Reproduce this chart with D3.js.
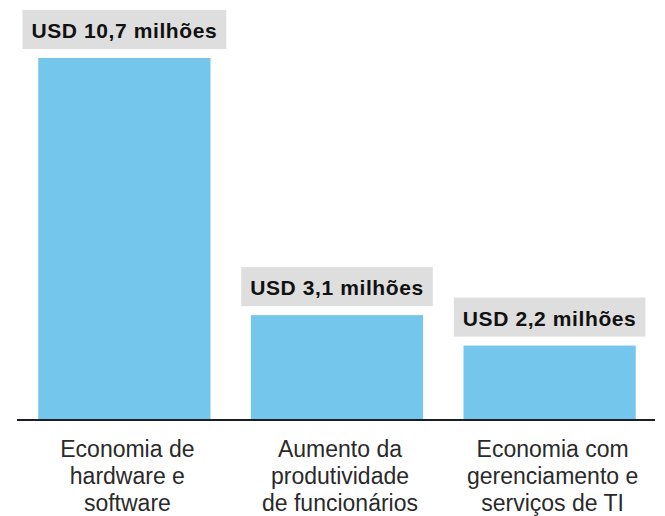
<!DOCTYPE html>
<html>
<head>
<meta charset="utf-8">
<script src="https://cdn.jsdelivr.net/npm/d3@7"></script>
<style>
  html, body { margin: 0; padding: 0; background: #ffffff; }
  svg { display: block; }
</style>
</head>
<body>
<svg id="chart" width="665" height="516"></svg>
<script>
const categories = [
  ["Economia de", "hardware e", "software"],
  ["Aumento da", "produtividade", "de funcionários"],
  ["Economia com", "gerenciamento e", "serviços de TI"]
];
const values = [10.7, 3.1, 2.2];
const valueLabels = ["USD 10,7 milhões", "USD 3,1 milhões", "USD 2,2 milhões"];

const svg = d3.select("#chart");
const baseY = 420, topY = 58;
const x = d3.scaleBand().domain(d3.range(values.length)).range([17, 657])
  .paddingInner(0.19).paddingOuter(0.1);
const y = d3.scaleLinear().domain([0, d3.max(values)]).range([baseY, topY]);

// bars
svg.selectAll("rect.bar").data(values).join("rect")
  .attr("class", "bar")
  .attr("x", (d, i) => x(i))
  .attr("y", d => y(d))
  .attr("width", x.bandwidth())
  .attr("height", d => baseY - y(d))
  .attr("fill", "#74c6ec");

// baseline
svg.append("line")
  .attr("x1", x.range()[0]).attr("x2", x.range()[1] - 2)
  .attr("y1", baseY).attr("y2", baseY)
  .attr("stroke", "#1b1f24").attr("stroke-width", 2);

// value labels with gray boxes
const lab = svg.selectAll("g.lab").data(values).join("g").attr("class", "lab");
lab.each(function(d, i) {
  const g = d3.select(this);
  const cx = x(i) + x.bandwidth() / 2;
  const boxBottom = y(d) - 9;
  const boxH = 39;
  const t = g.append("text")
    .attr("x", cx)
    .attr("y", boxBottom - 11)
    .attr("text-anchor", "middle")
    .attr("font-family", "Liberation Sans, Arial, sans-serif")
    .attr("font-weight", "bold")
    .attr("font-size", 21)
    .attr("letter-spacing", 0.6)
    .attr("fill", "#111111")
    .text(valueLabels[i]);
  const w = t.node().getComputedTextLength();
  g.insert("rect", "text")
    .attr("x", cx - w / 2 - 9)
    .attr("y", boxBottom - boxH)
    .attr("width", w + 18)
    .attr("height", boxH)
    .attr("fill", "#dedede");
});

// category labels
svg.selectAll("text.cat").data(categories).join("text")
  .attr("class", "cat")
  .attr("text-anchor", "middle")
  .attr("font-family", "Liberation Sans, Arial, sans-serif")
  .attr("font-size", 23)
  .attr("fill", "#2a2a2a")
  .each(function(lines, i) {
    const cx = x(i) + x.bandwidth() / 2 + 3;
    d3.select(this).selectAll("tspan").data(lines).join("tspan")
      .attr("x", cx)
      .attr("y", (l, j) => 457 + j * 27)
      .text(l => l);
  });
</script>
</body>
</html>
